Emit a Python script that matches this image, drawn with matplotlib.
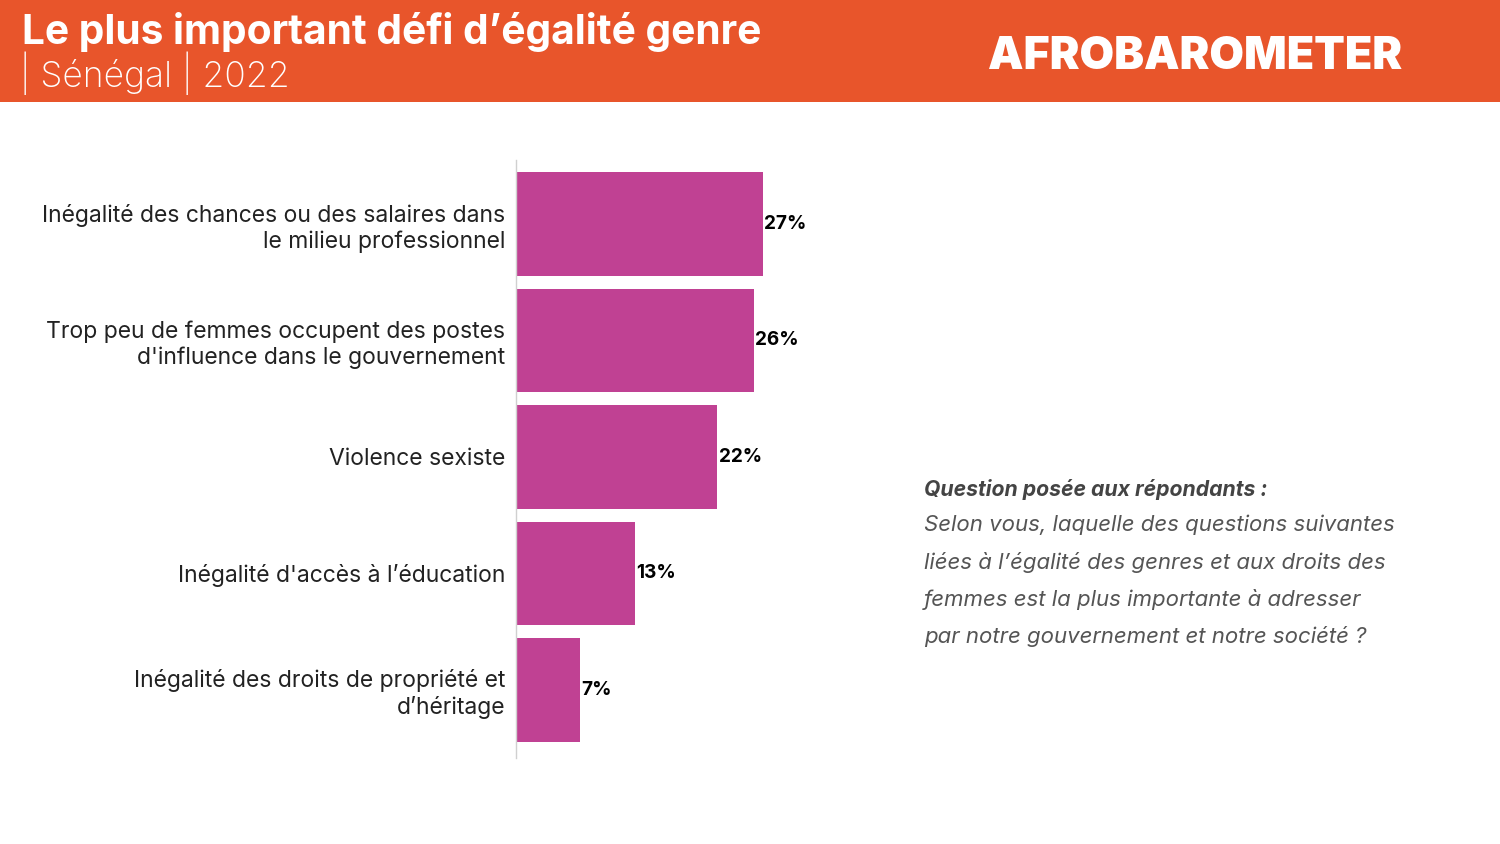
import matplotlib.pyplot as plt
from matplotlib.patches import Rectangle

plt.rcParams['font.family'] = ['Inter', 'DejaVu Sans']

# Data
categories = [
    "Inégalité des chances ou des salaires dans\nle milieu professionnel",
    "Trop peu de femmes occupent des postes\nd'influence dans le gouvernement",
    "Violence sexiste",
    "Inégalité d'accès à l’éducation",
    "Inégalité des droits de propriété et\nd’héritage",
]
values = [27, 26, 22, 13, 7]

title = "Le plus important défi d’égalité genre"
subtitle = "| Sénégal | 2022"
question_head = "Question posée aux répondants :"
question_lines = [
    "Selon vous, laquelle des questions suivantes",
    "liées à l’égalité des genres et aux droits des",
    "femmes est la plus importante à adresser",
    "par notre gouvernement et notre société ?",
]

W, H = 1500, 844
fig = plt.figure(figsize=(15, 8.44), dpi=100)
fig.patch.set_facecolor('white')

# Header band
fig.patches.append(Rectangle((0, 1 - 102 / H), 1, 102 / H, transform=fig.transFigure,
                             facecolor='#E8552B', edgecolor='none', zorder=0))
fig.text(22 / W, 1 - 44 / H, title, color='white', fontsize=29.3, fontweight='bold',
         va='baseline', ha='left')
fig.text(20 / W, 1 - 87 / H, subtitle, color='white', fontsize=25.5, fontweight='light',
         va='baseline', ha='left')
fig.text(1402 / W, 1 - 57 / H, "AFROBAROMETER", color='white', fontsize=32.2,
         fontweight='black', va='center', ha='right')

# Bar chart
ax = fig.add_axes([516 / W, (H - 758) / H, 274.4 / W, 598 / H])
y = list(range(len(categories)))
ax.barh(y, values, height=0.89, color='#C04193', edgecolor='none')
ax.set_xlim(0, 30)
ax.set_ylim(4.584, -0.549)
for yi, v in zip(y, values):
    ax.text(v + 0.15, yi, f"{v}%", va='center', ha='left', fontsize=13.7,
            fontweight='bold', color='black')

ax.set_yticks(y)
ax.set_yticklabels(categories, fontsize=16.5, color='#222222', linespacing=1.2)
ax.tick_params(axis='y', length=0, pad=8)
ax.set_xticks([])
for s in ['top', 'right', 'bottom']:
    ax.spines[s].set_visible(False)
ax.spines['left'].set_color('#D0D0D0')
ax.spines['left'].set_linewidth(1)
ax.patch.set_alpha(0)

# Question text
fig.text(924 / W, 1 - 489 / H, question_head, color='#444444', fontsize=15.3,
         fontweight='bold', style='italic', va='center', ha='left')
for i, line in enumerate(question_lines):
    fig.text(924 / W, 1 - (525 + 37.3 * i) / H, line, color='#555555', fontsize=16,
             style='italic', va='center', ha='left')

fig.savefig('out.png', dpi=100)
